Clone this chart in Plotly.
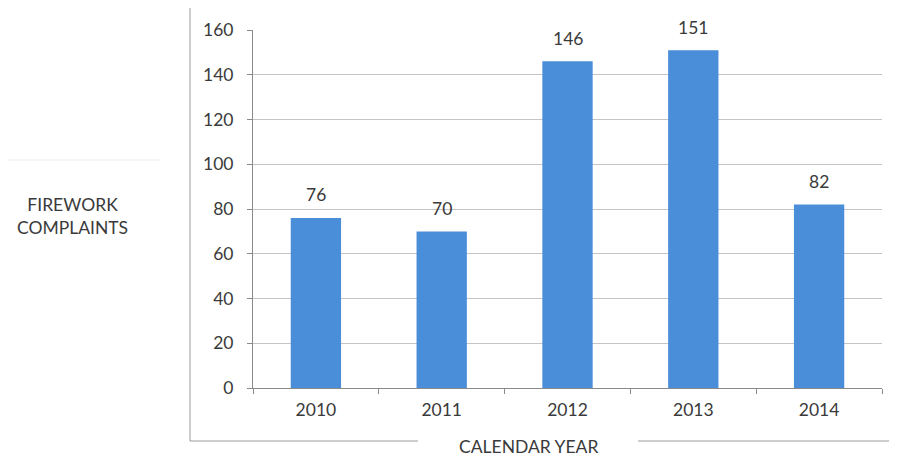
import plotly.graph_objects as go

years = ["2010", "2011", "2012", "2013", "2014"]
complaints = [76, 70, 146, 151, 82]
y_ticks = [0, 20, 40, 60, 80, 100, 120, 140, 160]

# page has an 8px body margin; compensate so the plot lands where the reference has it
OFF = 8
W, H = 897 - OFF, 458 - OFF
L, R, T, B = 253 - OFF, 15, 30 - OFF, 70
pw, ph = W - L - R, H - T - B

def px(x):
    return (x - OFF - L) / pw

def py(y):
    return (H - B - (y - OFF)) / ph

font = "Lato, 'Open Sans', sans-serif"
txt = "#3a3a3a"

fig = go.Figure(go.Bar(
    x=years, y=complaints, width=0.4,
    marker=dict(color="#4a8dd8", line=dict(width=0)),
    hoverinfo="x+y",
))

line_col = "#9a9a9a"
shapes = [
    dict(type="line", xref="paper", yref="paper", x0=px(190), x1=px(190), y0=py(441), y1=py(6),
         line=dict(color=line_col, width=1)),
    dict(type="line", xref="paper", yref="paper", x0=px(190), x1=px(896), y0=py(6), y1=py(6),
         line=dict(color=line_col, width=1)),
    dict(type="line", xref="paper", yref="paper", x0=px(190), x1=px(418), y0=py(441), y1=py(441),
         line=dict(color=line_col, width=1)),
    dict(type="line", xref="paper", yref="paper", x0=px(638), x1=px(896), y0=py(441), y1=py(441),
         line=dict(color=line_col, width=1)),
    dict(type="line", xref="paper", yref="paper", x0=px(5), x1=px(160), y0=py(160), y1=py(160),
         line=dict(color="#ececec", width=1)),
]

annotations = [
    dict(text="FIREWORK<br>COMPLAINTS", xref="paper", yref="paper", x=px(72), y=py(216),
         xanchor="center", yanchor="middle",
         showarrow=False, font=dict(size=17.5, color=txt, family=font), align="center"),
    dict(text="CALENDAR YEAR", xref="paper", yref="paper", x=px(528), y=py(446),
         xanchor="center", yanchor="middle",
         showarrow=False, font=dict(size=17.5, color=txt, family=font)),
]
for i, v in enumerate(complaints):
    annotations.append(dict(text=str(v), x=i, y=v, xref="x", yref="y", showarrow=False,
                            yanchor="middle", yshift=23,
                            font=dict(size=17.5, color=txt, family=font)))

fig.update_layout(
    width=W, height=H, margin=dict(l=L, r=R, t=T, b=B),
    paper_bgcolor="white", plot_bgcolor="white",
    showlegend=False,
    font=dict(family=font, size=17.5, color=txt),
    shapes=shapes,
    annotations=annotations,
    xaxis=dict(
        type="category", categoryarray=years, range=[-0.5, len(years) - 0.5],
        showline=True, linecolor="#8a8a8a", linewidth=1,
        ticks="outside", ticklen=5, tickcolor="#8a8a8a", tickson="boundaries",
        tickfont=dict(size=17.5, color=txt, family=font), showgrid=False,
        ticklabelstandoff=6, tickangle=0,
    ),
    yaxis=dict(
        range=[0, 160], tickvals=y_ticks, showline=True, linecolor="#8a8a8a", linewidth=1,
        ticks="outside", ticklen=5, tickcolor="#8a8a8a",
        showgrid=True, gridcolor="#c4c4c4", gridwidth=1, zeroline=False,
        tickfont=dict(size=17.5, color=txt, family=font), ticklabelstandoff=10,
    ),
)

fig.write_html("out.html")
